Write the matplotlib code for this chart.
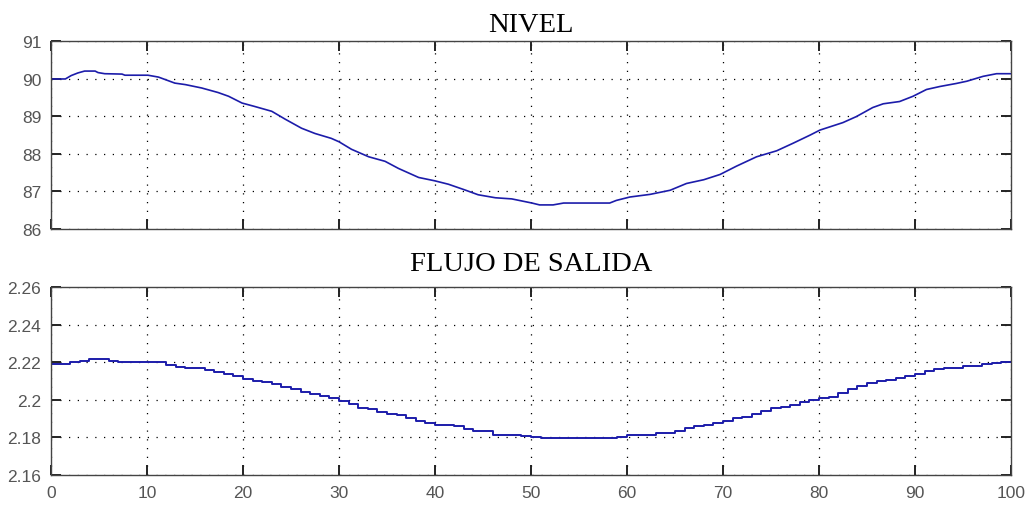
import numpy as np
import matplotlib
matplotlib.use("Agg")
import matplotlib.pyplot as plt

# Nivel del tanque (curva continua)
nivel_t = [0, 1.5, 2.1, 2.8, 3.5, 4.6, 4.9, 5.6, 7.4, 7.7, 10.1, 11.2, 12.9, 14.0,
           15.7, 17.4, 18.5, 19.9, 21.2, 23.0, 24.4, 26.1, 27.5, 29.2, 30.0, 31.3,
           33.1, 34.8, 36.2, 38.3, 40.0, 41.4, 43.1, 44.5, 46.3, 48.0, 50.1, 50.9,
           52.3, 53.4, 58.2, 58.9, 60.3, 62.4, 64.5, 66.2, 68.0, 69.7, 71.4, 73.5,
           75.6, 77.3, 79.1, 80.1, 82.5, 83.9, 85.6, 86.7, 88.4, 89.8, 91.2, 92.6,
           94.3, 95.4, 97.1, 98.5, 100.0]
nivel = [89.99, 89.99, 90.08, 90.15, 90.20, 90.20, 90.16, 90.13, 90.12, 90.09,
         90.09, 90.04, 89.88, 89.84, 89.75, 89.63, 89.53, 89.35, 89.26, 89.13,
         88.92, 88.68, 88.54, 88.41, 88.32, 88.12, 87.92, 87.80, 87.61, 87.37,
         87.28, 87.19, 87.04, 86.91, 86.83, 86.80, 86.69, 86.64, 86.64, 86.69,
         86.69, 86.76, 86.85, 86.92, 87.03, 87.21, 87.31, 87.45, 87.67, 87.92,
         88.08, 88.28, 88.50, 88.63, 88.83, 88.99, 89.23, 89.33, 89.39, 89.53,
         89.71, 89.79, 89.87, 89.93, 90.06, 90.13, 90.13]

# Flujo de salida (escalones, un valor por unidad de tiempo)
flujo = [2.2193, 2.2193, 2.2203, 2.2208, 2.2217, 2.2217, 2.2208, 2.2199, 2.2199, 2.2199,
         2.2199, 2.2199, 2.2187, 2.2176, 2.2167, 2.2167, 2.2158, 2.2149, 2.2137, 2.2125,
         2.2111, 2.2102, 2.2093, 2.2084, 2.2070, 2.2056, 2.2040, 2.2031, 2.2022, 2.2009,
         2.1995, 2.1980, 2.1959, 2.1950, 2.1935, 2.1926, 2.1917, 2.1901, 2.1886, 2.1877,
         2.1868, 2.1868, 2.1859, 2.1847, 2.1836, 2.1836, 2.1814, 2.1814, 2.1814, 2.1807,
         2.1800, 2.1797, 2.1797, 2.1797, 2.1797, 2.1797, 2.1797, 2.1797, 2.1797, 2.1802,
         2.1811, 2.1814, 2.1814, 2.1823, 2.1823, 2.1836, 2.1850, 2.1859, 2.1868, 2.1877,
         2.1886, 2.1901, 2.1908, 2.1923, 2.1940, 2.1955, 2.1960, 2.1974, 2.1988, 2.1998,
         2.2009, 2.2017, 2.2035, 2.2057, 2.2073, 2.2090, 2.2099, 2.2108, 2.2117, 2.2125,
         2.2139, 2.2151, 2.2162, 2.2170, 2.2170, 2.2179, 2.2179, 2.2188, 2.2197, 2.2203,
         2.2203]
flujo_t = np.arange(len(flujo))

x_ticks = list(range(0, 101, 10))
nivel_ticks = [86, 87, 88, 89, 90, 91]
flujo_ticks = [2.16, 2.18, 2.20, 2.22, 2.24, 2.26]
flujo_labels = ["2.16", "2.18", "2.2", "2.22", "2.24", "2.26"]

LINE = "#1c1caa"
GRID = dict(color="black", linestyle=(0, (1, 6)), linewidth=0.9)

fig = plt.figure(figsize=(10.32, 5.06), dpi=100)
ax1 = fig.add_axes([0.0494, 0.5455, 0.9302, 0.3715])
ax2 = fig.add_axes([0.0494, 0.0593, 0.9302, 0.3715])


def style_axes(ax):
    ax.set_xlim(0, 100)
    ax.set_xticks(x_ticks)
    ax.grid(True, **GRID)
    ax.tick_params(direction="in", length=7, width=1.4, color="#222222",
                   top=True, right=True, labelsize=12.5, labelcolor="#555555", pad=7)
    for lbl in ax.get_xticklabels() + ax.get_yticklabels():
        lbl.set_fontfamily("Liberation Sans")
    for sp in ax.spines.values():
        sp.set_color("#444444")
        sp.set_linewidth(1.0)


ax1.plot(nivel_t, nivel, color=LINE, linewidth=1.2)
ax1.set_ylim(86, 91)
ax1.set_yticks(nivel_ticks)
ax1.set_xticks(x_ticks)
ax1.set_xticklabels([])
style_axes(ax1)
ax1.set_title("NIVEL", fontfamily="Liberation Serif", fontsize=20.5, pad=7)

ax2.plot(flujo_t, flujo, color=LINE, linewidth=1.4, drawstyle="steps-post")
ax2.set_ylim(2.16, 2.26)
ax2.set_yticks(flujo_ticks)
ax2.set_yticklabels(flujo_labels)
style_axes(ax2)
ax2.set_title("FLUJO DE SALIDA", fontfamily="Liberation Serif", fontsize=20.5, pad=12)

fig.savefig("out.png", dpi=100)
